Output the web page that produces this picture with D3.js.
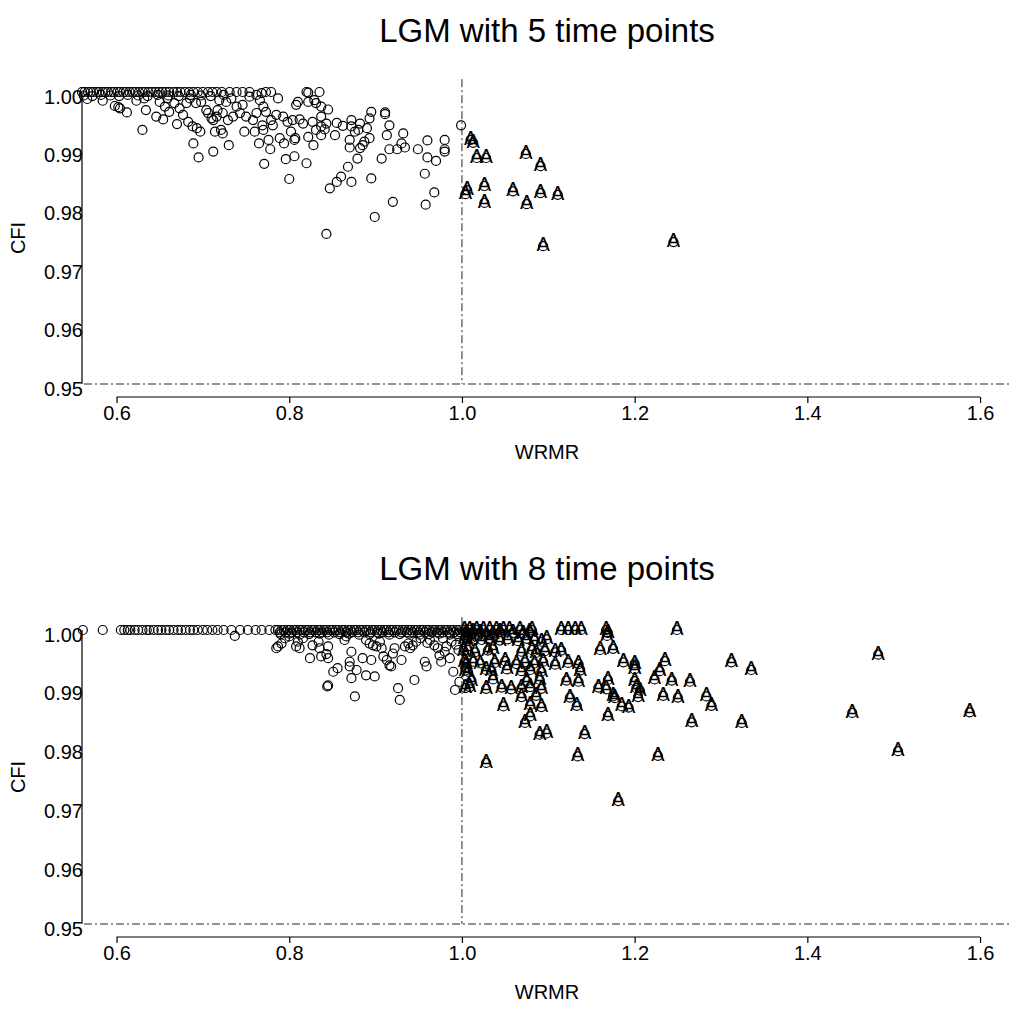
<!DOCTYPE html>
<html>
<head>
  <meta charset="utf-8" />
  <title>LGM: WRMR vs CFI</title>
  <script src="https://cdn.jsdelivr.net/npm/d3@7"></script>
  <style>
  body {
    margin: 0;
    background: #fff;
    font-family: "Liberation Sans", Arial, Helvetica, sans-serif;
  }
  .pt {
    fill: none;
    stroke: #000;
    stroke-width: 1.2px;
  }
  .mark-a {
    font-size: 20px;
    fill: #000;
    text-anchor: middle;
  }
  .ref {
    stroke: #222;
    stroke-width: 1px;
    stroke-dasharray: 8,3,2,3;
    fill: none;
  }
  .axline {
    stroke: #000;
    stroke-width: 1.2px;
  }
  .axis line {
    stroke: #000;
    stroke-width: 1.2px;
  }
  .axis text {
    font-family: "Liberation Sans", Arial, Helvetica, sans-serif;
    font-size: 20px;
    fill: #000;
  }
  .title { font-size: 33px; text-anchor: middle; }
  .alab { font-size: 20px; text-anchor: middle; }
  </style>
</head>
<body>
  <script type="text/javascript">
    var xTicks = [0.6, 0.8, 1.0, 1.2, 1.4, 1.6],
        yTicks = [0.95, 0.96, 0.97, 0.98, 0.99, 1.00]

    // 5 time points: WRMR of replications with CFI = 1.000
    var lgm5AtOne = [0.560, 0.563, 0.567, 0.570, 0.573, 0.577, 0.580, 0.584, 0.587, 0.590,
      0.594, 0.597, 0.601, 0.604, 0.608, 0.611, 0.615, 0.619, 0.622, 0.626, 0.630, 0.633,
      0.637, 0.641, 0.645, 0.649, 0.653, 0.657, 0.661, 0.666, 0.670, 0.674, 0.679, 0.684,
      0.689, 0.694, 0.700, 0.706, 0.711, 0.716, 0.722, 0.731, 0.739, 0.746, 0.754, 0.773,
      0.779, 0.820, 0.835]

    var lgm5Circle = [
      [0.562, 0.9994], [0.572, 0.9993], [0.582, 0.9995], [0.593, 0.9994], [0.603, 0.9993],
      [0.613, 0.9995], [0.625, 0.9994], [0.636, 0.9993], [0.648, 0.9995], [0.660, 0.9994],
      [0.672, 0.9993], [0.686, 0.9995], [0.698, 0.9994], [0.709, 0.9993], [0.724, 0.9995],
      [0.566, 0.9988], [0.584, 0.9985], [0.598, 0.9976], [0.602, 0.9974], [0.604, 0.9972],
      [0.612, 0.9965], [0.623, 0.9985], [0.630, 0.9935], [0.634, 0.9969], [0.632, 0.9989],
      [0.646, 0.9958], [0.654, 0.9953], [0.650, 0.9983], [0.656, 0.9975], [0.661, 0.9966],
      [0.667, 0.9981], [0.659, 0.9989], [0.670, 0.9945], [0.673, 0.9972], [0.677, 0.9961],
      [0.681, 0.9981], [0.685, 0.9989], [0.683, 0.9949], [0.688, 0.9941], [0.693, 0.9938],
      [0.697, 0.9932], [0.689, 0.9912], [0.695, 0.9888], [0.692, 0.9981], [0.698, 0.9983],
      [0.704, 0.9969], [0.706, 0.9964], [0.710, 0.9955], [0.712, 0.9952], [0.716, 0.9958],
      [0.712, 0.9898], [0.714, 0.9932], [0.721, 0.9935], [0.723, 0.9929], [0.719, 0.9986],
      [0.727, 0.9983], [0.733, 0.9989], [0.717, 0.9969], [0.723, 0.9964], [0.729, 0.9952],
      [0.730, 0.9909], [0.735, 0.9958], [0.739, 0.9975], [0.743, 0.9964], [0.746, 0.9978],
      [0.748, 0.9932], [0.750, 0.9958], [0.758, 0.9952], [0.762, 0.9964], [0.754, 0.9992],
      [0.762, 0.9995], [0.768, 0.9998], [0.766, 0.9986], [0.770, 0.9975], [0.773, 0.9966],
      [0.760, 0.9932], [0.770, 0.9935], [0.769, 0.9943], [0.765, 0.9912], [0.776, 0.9918],
      [0.778, 0.9902], [0.771, 0.9877], [0.779, 0.9952], [0.785, 0.9961], [0.781, 0.9943],
      [0.787, 0.9989], [0.789, 0.9921], [0.794, 0.9912], [0.796, 0.9885], [0.793, 0.9958],
      [0.798, 0.9949], [0.802, 0.9932], [0.804, 0.9952], [0.807, 0.9921], [0.806, 0.9890],
      [0.808, 0.9978], [0.810, 0.9983], [0.800, 0.9851], [0.822, 0.9999], [0.822, 0.9983],
      [0.829, 0.9986], [0.831, 0.9981], [0.837, 0.9975], [0.845, 0.9970], [0.837, 0.9958],
      [0.812, 0.9953], [0.816, 0.9946], [0.827, 0.9949], [0.831, 0.9935], [0.837, 0.9941],
      [0.843, 0.9946], [0.841, 0.9936], [0.837, 0.9926], [0.806, 0.9918], [0.822, 0.9923],
      [0.828, 0.9909], [0.820, 0.9878], [0.853, 0.9926], [0.855, 0.9947], [0.862, 0.9942],
      [0.872, 0.9952], [0.872, 0.9941], [0.876, 0.9932], [0.882, 0.9946], [0.880, 0.9935],
      [0.890, 0.9938], [0.893, 0.9955], [0.895, 0.9966], [0.870, 0.9918], [0.870, 0.9905],
      [0.882, 0.9904], [0.887, 0.9915], [0.885, 0.9909], [0.893, 0.9921], [0.879, 0.9886],
      [0.868, 0.9872], [0.872, 0.9846], [0.860, 0.9855], [0.855, 0.9846], [0.847, 0.9835],
      [0.895, 0.9852], [0.911, 0.9965], [0.911, 0.9962], [0.916, 0.9943], [0.913, 0.9926],
      [0.907, 0.9886], [0.916, 0.9902], [0.925, 0.9902], [0.932, 0.9929], [0.934, 0.9905],
      [0.930, 0.9912], [0.920, 0.9812], [0.899, 0.9786], [0.843, 0.9757], [0.949, 0.9902],
      [0.960, 0.9917], [0.960, 0.9888], [0.970, 0.9882], [0.957, 0.9860], [0.968, 0.9828],
      [0.958, 0.9807], [0.980, 0.9918], [0.980, 0.9902], [0.980, 0.9898], [0.999, 0.9943]
    ]

    var lgm5A = [
      [1.010, 0.9918], [1.013, 0.9913], [1.017, 0.9887], [1.028, 0.9887], [1.074, 0.9894],
      [1.091, 0.9873], [1.006, 0.9832], [1.004, 0.9825], [1.026, 0.9839], [1.026, 0.9810],
      [1.059, 0.9830], [1.075, 0.9808], [1.091, 0.9827], [1.111, 0.9824], [1.094, 0.9736],
      [1.245, 0.9743]
    ]

    // 8 time points: WRMR of replications with CFI = 1.000
    var lgm8AtOne = [0.561, 0.584, 0.605, 0.609, 0.613, 0.616, 0.621, 0.625, 0.630, 0.635,
      0.638, 0.643, 0.648, 0.652, 0.657, 0.661, 0.666, 0.671, 0.675, 0.680, 0.685, 0.689,
      0.694, 0.700, 0.705, 0.711, 0.717, 0.724, 0.733, 0.743, 0.752, 0.761, 0.768, 0.777,
      0.784, 0.787, 0.791, 0.794, 0.798, 0.801, 0.805, 0.808, 0.812, 0.815, 0.819, 0.822,
      0.826, 0.829, 0.833, 0.836, 0.840, 0.843, 0.847, 0.850, 0.854, 0.857, 0.861, 0.864,
      0.868, 0.871, 0.875, 0.878, 0.882, 0.885, 0.889, 0.892, 0.896, 0.899, 0.903, 0.906,
      0.910, 0.913, 0.917, 0.920, 0.924, 0.927, 0.931, 0.934, 0.938, 0.941, 0.945, 0.948,
      0.952, 0.955, 0.959, 0.962, 0.966, 0.969, 0.973, 0.976, 0.980, 0.983, 0.987, 0.990,
      0.994, 0.997]

    // 8 time points: WRMR of replications with CFI just under 1 (0.9996)
    var lgm8NearOne = [0.789, 0.796, 0.803, 0.809, 0.817, 0.824, 0.831, 0.838, 0.844, 0.852,
      0.859, 0.866, 0.873, 0.880, 0.887, 0.894, 0.902, 0.908, 0.915, 0.922, 0.930, 0.936,
      0.943, 0.950, 0.957, 0.965, 0.971, 0.978, 0.985, 0.991, 0.998]

    var lgm8Circle = [
      [0.790, 0.9993], [0.800, 0.9994], [0.812, 0.9992], [0.823, 0.9993], [0.835, 0.9994],
      [0.846, 0.9992], [0.858, 0.9993], [0.869, 0.9994], [0.881, 0.9992], [0.893, 0.9993],
      [0.904, 0.9994], [0.916, 0.9992], [0.928, 0.9993], [0.939, 0.9994], [0.951, 0.9992],
      [0.962, 0.9993], [0.974, 0.9994], [0.986, 0.9992], [0.995, 0.9993],
      [0.737, 0.9990], [0.787, 0.9972], [0.791, 0.9977], [0.795, 0.9986], [0.785, 0.9969],
      [0.800, 0.9989], [0.810, 0.9980], [0.808, 0.9972], [0.812, 0.9969], [0.816, 0.9986],
      [0.827, 0.9974], [0.834, 0.9980], [0.835, 0.9969], [0.824, 0.9952], [0.837, 0.9955],
      [0.843, 0.9959], [0.845, 0.9952], [0.845, 0.9972], [0.851, 0.9929], [0.856, 0.9935],
      [0.845, 0.9906], [0.844, 0.9904], [0.864, 0.9983], [0.866, 0.9989], [0.872, 0.9963],
      [0.870, 0.9946], [0.870, 0.9938], [0.872, 0.9918], [0.878, 0.9932], [0.876, 0.9887],
      [0.885, 0.9952], [0.889, 0.9923], [0.895, 0.9949], [0.899, 0.9921], [0.889, 0.9983],
      [0.893, 0.9977], [0.897, 0.9974], [0.901, 0.9972], [0.905, 0.9980], [0.907, 0.9969],
      [0.909, 0.9955], [0.913, 0.9949], [0.918, 0.9938], [0.916, 0.9940], [0.920, 0.9960],
      [0.922, 0.9969], [0.926, 0.9901], [0.928, 0.9881], [0.930, 0.9949], [0.934, 0.9972],
      [0.938, 0.9977], [0.940, 0.9969], [0.943, 0.9974], [0.947, 0.9980], [0.945, 0.9915],
      [0.957, 0.9946], [0.959, 0.9938], [0.968, 0.9974], [0.972, 0.9969], [0.974, 0.9957],
      [0.976, 0.9946], [0.980, 0.9963], [0.982, 0.9972], [0.986, 0.9952], [0.990, 0.9929],
      [0.992, 0.9898], [0.997, 0.9912], [0.952, 0.9986], [0.963, 0.9983], [0.978, 0.9986],
      [0.988, 0.9980], [0.993, 0.9975], [0.996, 0.9966], [0.960, 0.9978]
    ]

    var lgm8A = [
      [1.003, 1.0000], [1.009, 1.0000], [1.017, 1.0000], [1.025, 1.0000], [1.032, 1.0000],
      [1.040, 1.0000], [1.048, 1.0000], [1.055, 1.0000], [1.067, 1.0000], [1.081, 1.0000],
      [1.115, 1.0000], [1.123, 1.0000], [1.131, 1.0000], [1.138, 1.0000], [1.167, 1.0000],
      [1.249, 1.0000],
      [1.005, 0.9995], [1.013, 0.9996], [1.021, 0.9995], [1.036, 0.9994], [1.044, 0.9996],
      [1.059, 0.9995], [1.071, 0.9994], [1.078, 0.9996], [1.169, 0.9995], [1.168, 0.9990],
      [1.007, 0.9990], [1.028, 0.9991],
      [1.003, 0.9984], [1.006, 0.9981], [1.011, 0.9986], [1.023, 0.9983], [1.032, 0.9985],
      [1.044, 0.9982], [1.053, 0.9984], [1.065, 0.9981], [1.075, 0.9985], [1.084, 0.9983],
      [1.092, 0.9980], [1.098, 0.9984],
      [1.002, 0.9964], [1.007, 0.9966], [1.015, 0.9962], [1.030, 0.9965], [1.036, 0.9967],
      [1.069, 0.9963], [1.081, 0.9966], [1.086, 0.9961], [1.096, 0.9964], [1.108, 0.9962],
      [1.115, 0.9965], [1.160, 0.9966], [1.175, 0.9968],
      [1.003, 0.9945], [1.005, 0.9942], [1.013, 0.9946], [1.021, 0.9943], [1.038, 0.9944],
      [1.050, 0.9947], [1.063, 0.9942], [1.073, 0.9945], [1.084, 0.9943], [1.094, 0.9946],
      [1.108, 0.9941], [1.123, 0.9944], [1.135, 0.9942], [1.187, 0.9945], [1.200, 0.9943],
      [1.235, 0.9947], [1.312, 0.9945],
      [1.004, 0.9931], [1.007, 0.9929], [1.028, 0.9932], [1.034, 0.9930], [1.052, 0.9933],
      [1.069, 0.9930], [1.079, 0.9932], [1.092, 0.9929], [1.137, 0.9931], [1.200, 0.9933],
      [1.229, 0.9930], [1.335, 0.9932],
      [1.011, 0.9914], [1.036, 0.9916], [1.075, 0.9913], [1.090, 0.9915], [1.121, 0.9914],
      [1.135, 0.9912], [1.169, 0.9915], [1.200, 0.9913], [1.223, 0.9916], [1.243, 0.9914],
      [1.264, 0.9912],
      [1.004, 0.9901], [1.009, 0.9903], [1.028, 0.9900], [1.046, 0.9902], [1.057, 0.9899],
      [1.069, 0.9901], [1.079, 0.9903], [1.092, 0.9900], [1.158, 0.9902], [1.167, 0.9899],
      [1.202, 0.9901], [1.206, 0.9897],
      [1.069, 0.9886], [1.086, 0.9888], [1.125, 0.9885], [1.175, 0.9887], [1.177, 0.9884],
      [1.204, 0.9886], [1.233, 0.9888], [1.250, 0.9885], [1.283, 0.9887],
      [1.048, 0.9870], [1.079, 0.9872], [1.092, 0.9869], [1.133, 0.9871], [1.185, 0.9870],
      [1.193, 0.9868], [1.289, 0.9871],
      [1.079, 0.9853], [1.169, 0.9854], [1.073, 0.9842], [1.266, 0.9843], [1.324, 0.9842],
      [1.090, 0.9822], [1.098, 0.9824], [1.142, 0.9823], [1.134, 0.9785], [1.227, 0.9786],
      [1.028, 0.9774], [1.181, 0.9709],
      [1.482, 0.9958], [1.452, 0.9859], [1.588, 0.9860], [1.505, 0.9794]
    ]

    var panels = [
      { title: 'LGM with 5 time points', top: 92, bottom: 384,
        circles: lgm5AtOne.map(function(w) { return [w, 1.0] }).concat(lgm5Circle),
        aMarks: lgm5A },
      { title: 'LGM with 8 time points', top: 630, bottom: 924,
        circles: lgm8AtOne.map(function(w) { return [w, 1.0] })
          .concat(lgm8NearOne.map(function(w) { return [w, 0.9996] }))
          .concat(lgm8Circle),
        aMarks: lgm8A }
    ]

    var w = 1013, h = 1031,
        left = 82, right = 1012

    var svg = d3.select(document.body)
      .append('svg')
      .attr('width', w)
      .attr('height', h)

    var x = d3.scaleLinear().domain([0.56, 1.637]).range([left, right])

    panels.forEach(function(p) {
      var y = d3.scaleLinear().domain([0.95, 1.0]).range([p.bottom, p.top])
      var g = svg.append('g')

      g.append('text')
        .attr('class', 'title')
        .attr('x', (left + right) / 2)
        .attr('y', p.top - 50)
        .text(p.title)

      // reference lines
      g.append('line')
        .attr('class', 'ref')
        .attr('x1', left + 2).attr('x2', right)
        .attr('y1', y(0.95)).attr('y2', y(0.95))
      g.append('line')
        .attr('class', 'ref')
        .attr('x1', x(1.0)).attr('x2', x(1.0))
        .attr('y1', y(1.0022)).attr('y2', y(0.95))

      // y axis: plain line, no ticks, labels sit on the line
      g.append('line')
        .attr('class', 'axline')
        .attr('x1', left).attr('x2', left)
        .attr('y1', y(1.0)).attr('y2', y(0.95))
      var ya = g.append('g')
        .attr('class', 'axis')
        .attr('transform', 'translate(' + left + ',0)')
        .call(d3.axisLeft(y).tickValues(yTicks).tickSize(0).tickPadding(-1)
          .tickFormat(d3.format('.2f')))
      ya.select('.domain').remove()
      ya.selectAll('text').attr('dy', '0.55em')

      // x axis, spanning 0.6 to 1.6 only
      var xy = p.bottom + 13
      g.append('line')
        .attr('class', 'axline')
        .attr('x1', x(0.6)).attr('x2', x(1.6))
        .attr('y1', xy).attr('y2', xy)
      var xa = g.append('g')
        .attr('class', 'axis')
        .attr('transform', 'translate(0,' + xy + ')')
        .call(d3.axisBottom(x).tickValues(xTicks).tickSize(6).tickPadding(3)
          .tickFormat(d3.format('.1f')))
      xa.select('.domain').remove()

      g.append('text')
        .attr('class', 'alab')
        .attr('x', (left + right) / 2)
        .attr('y', p.bottom + 75)
        .text('WRMR')

      g.append('text')
        .attr('class', 'alab')
        .attr('transform', 'translate(25,' + ((p.top + p.bottom) / 2) + ') rotate(-90)')
        .text('CFI')

      g.selectAll('circle.o')
        .data(p.circles.concat(p.aMarks))
      .enter().append('circle')
        .attr('class', 'pt')
        .attr('r', 4.5)
        .attr('cx', function(d) { return x(d[0]) })
        .attr('cy', function(d) { return y(d[1]) })

      g.selectAll('text.mark-a')
        .data(p.aMarks)
      .enter().append('text')
        .attr('class', 'mark-a')
        .attr('x', function(d) { return x(d[0]) })
        .attr('y', function(d) { return y(d[1]) + 5 })
        .text('A')
    })
  </script>
</body>
</html>
